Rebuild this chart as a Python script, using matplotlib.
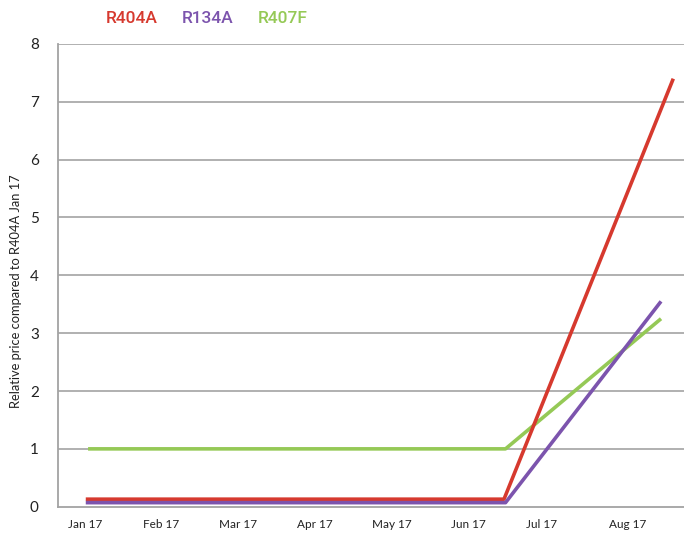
import matplotlib
matplotlib.use("Agg")
import matplotlib.pyplot as plt

# Data (x in months since Jan 17)
month_labels = ["Jan 17", "Feb 17", "Mar 17", "Apr 17", "May 17", "Jun 17", "Jul 17", "Aug 17"]
month_pos = [0, 1, 2, 3, 4, 5, 5.96, 7.09]

series_names = ["R404A", "R134A", "R407F"]
r404a_x = [0.01, 5.47, 7.68]
r404a_y = [0.13, 0.13, 7.40]
r134a_x = [0.01, 5.49, 7.52]
r134a_y = [0.07, 0.07, 3.55]
r407f_x = [0.04, 5.49, 7.52]
r407f_y = [1.0, 1.0, 3.25]
y_ticks = [0, 1, 2, 3, 4, 5, 6, 7, 8]

colors = ["#d6392e", "#7c54ad", "#95c956"]

fig = plt.figure(figsize=(6.84, 5.35), dpi=100)
ax = fig.add_axes([0.0852, 0.0529, 1 - 0.0852, 0.9178 - 0.0529])

for y in y_ticks[1:]:
    ax.axhline(y, color="#a3a3a3", lw=1.2, zorder=1)

ax.plot(r407f_x, r407f_y, color=colors[2], lw=2.6, solid_capstyle="butt", zorder=3)
ax.plot(r404a_x, r404a_y, color=colors[0], lw=2.6, solid_capstyle="butt", zorder=3)
ax.plot(r134a_x, r134a_y, color=colors[1], lw=2.6, solid_capstyle="butt", zorder=4)

ax.set_xlim(-0.349, 7.82)
ax.set_ylim(0, 8)
ax.set_xticks(month_pos)
ax.set_xticklabels(month_labels, fontsize=8.5, family="Lato", color="#222222")
ax.set_yticks(y_ticks)
ax.set_yticklabels([str(v) for v in y_ticks], fontsize=11, family="Lato", color="#222222")
ax.tick_params(axis="both", length=0)
ax.tick_params(axis="y", pad=14)
ax.tick_params(axis="x", pad=9)

for s in ["top", "right"]:
    ax.spines[s].set_visible(False)
for s in ["left", "bottom"]:
    ax.spines[s].set_color("#a3a3a3")
    ax.spines[s].set_linewidth(1.3)

ax.set_ylabel("Relative price compared to R404A Jan 17", fontsize=9.3, family="Lato", color="#222222")
ax.yaxis.set_label_coords(-0.058, 0.465)

legend_x = [0.193, 0.303, 0.414]
for name, c, xx in zip(series_names, colors, legend_x):
    fig.text(xx, 0.966, name, color=c, fontsize=12.5, family="Roboto", fontweight="medium",
             ha="center", va="center")

fig.savefig("out.png", dpi=100)
